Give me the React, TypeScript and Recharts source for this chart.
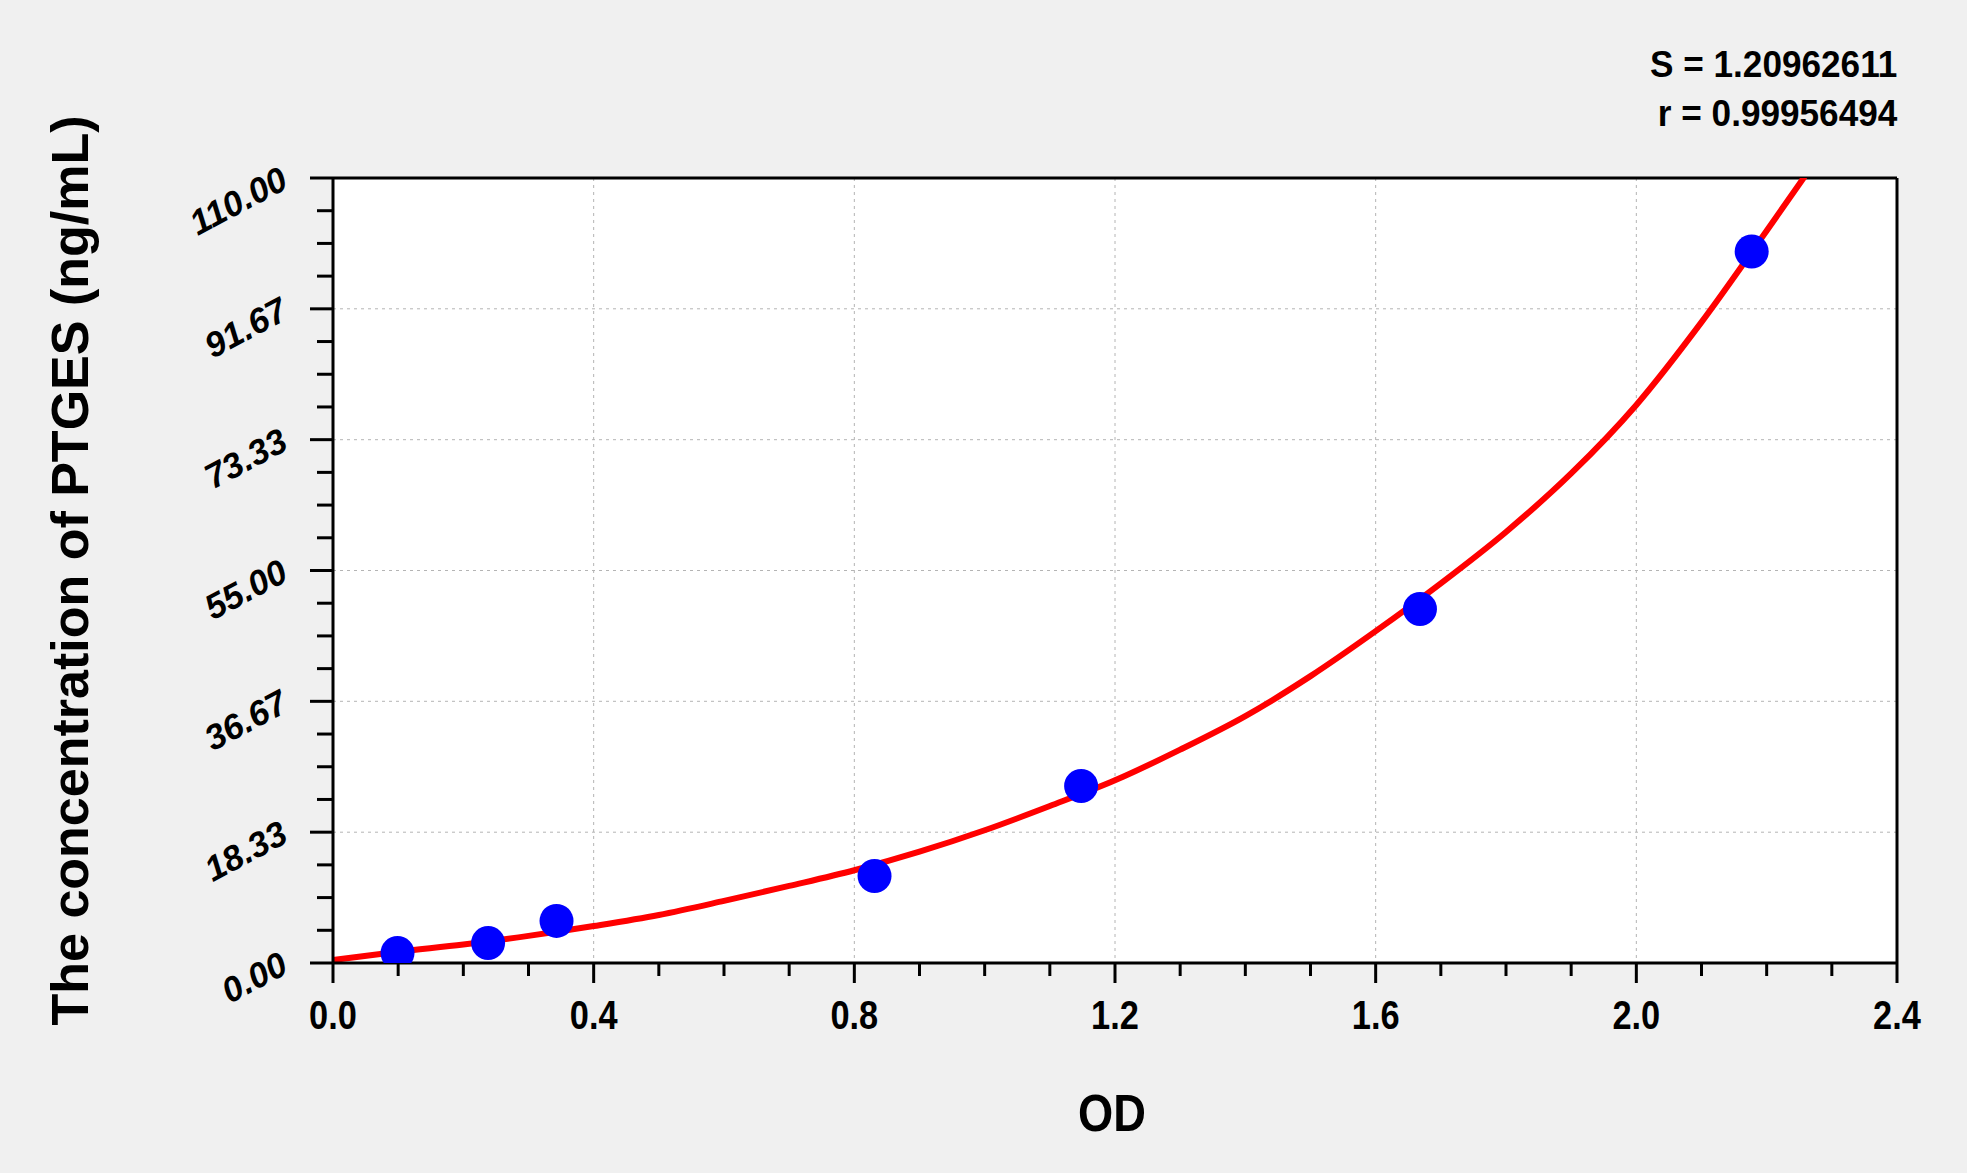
import { CartesianGrid, ComposedChart, Line, ReferenceLine, Scatter, XAxis, YAxis } from "recharts"

const FONT = '"Liberation Sans", Arial, sans-serif'

// standards: OD against concentration (ng/mL)
const standardOd = [0.099, 0.238, 0.343, 0.831, 1.148, 1.668, 2.177]
const standardConc = [1.4, 2.8, 5.9, 12.2, 24.8, 49.6, 99.7]

// fitted curve
const curveOd = [0, 0.1, 0.2, 0.3, 0.4, 0.5, 0.6, 0.7, 0.8, 0.9, 1.0, 1.1, 1.2, 1.3, 1.4, 1.5, 1.6, 1.7, 1.8, 1.9, 2.0, 2.1, 2.2, 2.262]
const curveConc = [0.42, 1.59, 2.6, 3.8, 5.18, 6.73, 8.7, 10.8, 13.0, 15.6, 18.6, 22.0, 25.6, 29.9, 34.6, 40.2, 46.5, 53.2, 60.4, 68.6, 78.2, 89.8, 102.6, 110.7]

const xTickLabels = ["0.0", "0.4", "0.8", "1.2", "1.6", "2.0", "2.4"]
const yTickLabels = ["0.00", "18.33", "36.67", "55.00", "73.33", "91.67", "110.00"]

const statLines = ["S = 1.20962611", "r = 0.99956494"]

const xMajor = xTickLabels.map(Number)
const yMajor = yTickLabels.map(Number)

// major ticks plus minor ticks in between
function withMinor(major: number[], parts: number) {
    const out: number[] = []
    major.forEach((v, i) => {
        out.push(v)
        if (i < major.length - 1) {
            const step = (major[i + 1] - v) / parts
            for (let k = 1; k < parts; k++) out.push(v + step * k)
        }
    })
    return out
}

const xTicks = withMinor(xMajor, 4)
const yTicks = withMinor([0, 110], 24)

const standards = standardOd.map((x, i) => ({ x, y: standardConc[i] }))
const curve = curveOd.map((x, i) => ({ x, y: curveConc[i] }))

function XTick({ x, y, index }: any) {
    const major = index % 4 === 0
    return (
        <g>
            <line x1={x} x2={x} y1={y} y2={y + (major ? 20 : 13)} stroke="#000" strokeWidth={3} />
            {major && (
                <text
                    transform={`translate(${x},${y + 66}) scale(0.86,1)`}
                    textAnchor="middle"
                    fontFamily={FONT}
                    fontWeight="bold"
                    fontSize={40}
                    fill="#000"
                >
                    {xTickLabels[index / 4]}
                </text>
            )}
        </g>
    )
}

function YTick({ x, y, index }: any) {
    const major = index % 4 === 0
    const ax = x - 43
    const ay = y + 9
    return (
        <g>
            <line x1={x - (major ? 23 : 16)} x2={x} y1={y} y2={y} stroke="#000" strokeWidth={3} />
            {major && (
                <text
                    x={ax}
                    y={ay}
                    transform={`rotate(-28, ${ax}, ${ay})`}
                    textAnchor="end"
                    fontFamily={FONT}
                    fontWeight="bold"
                    fontStyle="italic"
                    fontSize={35}
                    fill="#000"
                >
                    {yTickLabels[index / 4]}
                </text>
            )}
        </g>
    )
}

function YTitle({ viewBox }: any) {
    const x = viewBox.x + 88
    const y = viewBox.y + viewBox.height / 2
    return (
        <text x={x} y={y} transform={`rotate(-90, ${x}, ${y})`} textAnchor="middle" fontFamily={FONT} fontWeight="bold" fontSize={52} fill="#000">
            The concentration of PTGES (ng/mL)
        </text>
    )
}

function XTitle({ viewBox }: any) {
    const x = viewBox.x + viewBox.width / 2 - 3
    const y = viewBox.y + 168
    return (
        <text transform={`translate(${x},${y}) scale(0.87,1)`} textAnchor="middle" fontFamily={FONT} fontWeight="bold" fontSize={52} fill="#000">
            OD
        </text>
    )
}

function Dot({ cx, cy }: any) {
    return <circle cx={cx} cy={cy} r={17} fill="#0000ff" />
}

export default function App() {
    return (
        <div style={{ position: "absolute", left: 0, top: 0, width: 1967, height: 1173, background: "#f0f0f0" }}>
            <div
                style={{
                    position: "absolute",
                    right: 70,
                    top: 40,
                    textAlign: "right",
                    fontFamily: FONT,
                    fontWeight: "bold",
                    fontSize: 37,
                    lineHeight: "49px",
                    color: "#000",
                    transform: "scaleX(0.95)",
                    transformOrigin: "right",
                    whiteSpace: "nowrap",
                }}
            >
                {statLines.map((s) => (
                    <div key={s}>{s}</div>
                ))}
            </div>
            <ComposedChart width={1967} height={1173} margin={{ top: 178, right: 70, bottom: 0, left: 0 }}>
                <CartesianGrid
                    fill="#ffffff"
                    fillOpacity={1}
                    stroke="#b4b4b4"
                    strokeWidth={1}
                    strokeDasharray="3 4"
                    verticalValues={xMajor}
                    horizontalValues={yMajor}
                />
                <XAxis
                    type="number"
                    dataKey="x"
                    domain={[0, 2.4]}
                    ticks={xTicks}
                    interval={0}
                    height={210}
                    tickSize={0}
                    tickMargin={0}
                    tickLine={false}
                    axisLine={{ stroke: "#000", strokeWidth: 3 }}
                    tick={<XTick />}
                    label={{ content: (p: any) => <XTitle {...p} /> }}
                />
                <YAxis
                    type="number"
                    dataKey="y"
                    domain={[0, 110]}
                    allowDataOverflow
                    ticks={yTicks}
                    interval={0}
                    width={333}
                    tickSize={0}
                    tickMargin={0}
                    tickLine={false}
                    axisLine={{ stroke: "#000", strokeWidth: 3 }}
                    tick={<YTick />}
                    label={{ content: (p: any) => <YTitle {...p} /> }}
                />
                <ReferenceLine y={110} stroke="#000" strokeWidth={3} />
                <ReferenceLine x={2.4} stroke="#000" strokeWidth={3} />
                <Scatter data={standards} shape={<Dot />} isAnimationActive={false} />
                <Line data={curve} dataKey="y" type="monotone" stroke="#ff0000" strokeWidth={6} dot={false} activeDot={false} isAnimationActive={false} />
            </ComposedChart>
        </div>
    )
}
